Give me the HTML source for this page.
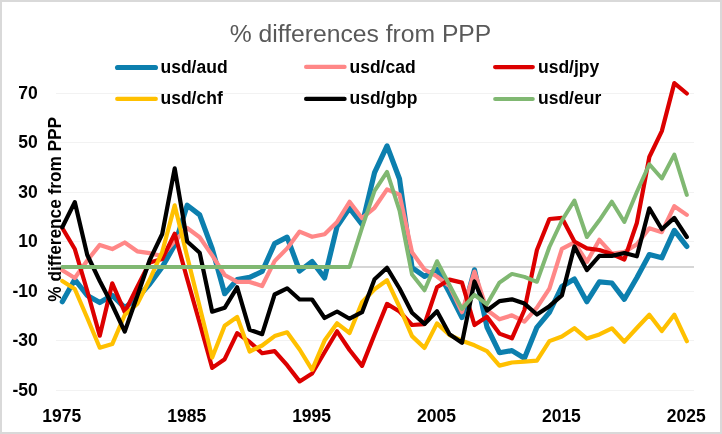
<!DOCTYPE html>
<html><head><meta charset="utf-8"><style>
html,body{margin:0;padding:0;background:#fff;}
body{width:722px;height:434px;overflow:hidden;}
svg{display:block;will-change:transform;}
text{font-family:"Liberation Sans",sans-serif;}
.lab{font-weight:bold;font-size:17.5px;fill:#000;}
.leg{font-weight:bold;font-size:17.5px;fill:#000;}
.title{font-size:24.7px;fill:#595959;}
.ytitle{font-weight:bold;font-size:18.2px;fill:#000;}
</style></head><body>
<svg width="722" height="434" viewBox="0 0 722 434">
<rect x="1" y="1" width="720" height="432" fill="#fff" stroke="#d9d9d9" stroke-width="2"/>
<rect x="56" y="93" width="638" height="1" fill="#f2f2f2"/>
<rect x="56" y="142" width="638" height="1" fill="#f2f2f2"/>
<rect x="56" y="192" width="638" height="1" fill="#f2f2f2"/>
<rect x="56" y="241" width="638" height="1" fill="#f2f2f2"/>
<rect x="56" y="291" width="638" height="1" fill="#f2f2f2"/>
<rect x="56" y="340" width="638" height="1" fill="#f2f2f2"/>
<rect x="56" y="390" width="638" height="1" fill="#f2f2f2"/>
<rect x="56" y="266" width="638" height="2" fill="#d6d6d6"/>
<text x="37.8" y="98.70" text-anchor="end" class="lab">70</text>
<text x="37.8" y="148.22" text-anchor="end" class="lab">50</text>
<text x="37.8" y="197.73" text-anchor="end" class="lab">30</text>
<text x="37.8" y="247.25" text-anchor="end" class="lab">10</text>
<text x="37.8" y="296.76" text-anchor="end" class="lab">-10</text>
<text x="37.8" y="346.28" text-anchor="end" class="lab">-30</text>
<text x="37.8" y="395.80" text-anchor="end" class="lab">-50</text>
<text x="61.80" y="421.5" text-anchor="middle" class="lab">1975</text>
<text x="186.70" y="421.5" text-anchor="middle" class="lab">1985</text>
<text x="311.60" y="421.5" text-anchor="middle" class="lab">1995</text>
<text x="436.50" y="421.5" text-anchor="middle" class="lab">2005</text>
<text x="561.40" y="421.5" text-anchor="middle" class="lab">2015</text>
<text x="686.30" y="421.5" text-anchor="middle" class="lab">2025</text>
<polyline points="62.30,301.70 74.79,279.50 87.28,295.50 99.77,302.60 112.26,295.30 124.75,307.70 137.24,298.00 149.73,284.00 162.22,267.00 174.71,245.00 187.20,205.20 199.69,214.90 212.18,248.60 224.67,293.70 237.16,279.60 249.65,277.30 262.14,271.50 274.63,243.60 287.12,237.10 299.61,271.00 312.10,261.50 324.59,277.90 337.08,226.50 349.57,208.10 362.06,224.50 374.55,172.60 387.04,145.90 399.53,179.00 412.02,267.70 424.51,276.40 437.00,269.50 449.49,292.80 461.98,317.50 474.47,269.80 486.96,327.00 499.45,352.70 511.94,350.60 524.43,358.20 536.92,327.30 549.41,312.30 561.90,286.40 574.39,279.00 586.88,301.70 599.37,281.80 611.86,283.00 624.35,299.30 636.84,277.80 649.33,254.60 661.82,257.80 674.31,230.40 686.80,246.40" fill="none" stroke="#0c7fae" stroke-width="5.2" stroke-linejoin="round" stroke-linecap="round"/>
<polyline points="62.30,270.30 74.79,278.00 87.28,260.50 99.77,244.90 112.26,249.10 124.75,242.50 137.24,251.30 149.73,253.20 162.22,256.10 174.71,241.00 187.20,228.00 199.69,237.20 212.18,255.40 224.67,275.00 237.16,281.90 249.65,281.90 262.14,286.00 274.63,261.10 287.12,248.40 299.61,231.60 312.10,236.80 324.59,234.20 337.08,221.90 349.57,201.80 362.06,218.20 374.55,207.80 387.04,189.40 399.53,194.80 412.02,252.30 424.51,269.50 437.00,276.50 449.49,286.10 461.98,312.20 474.47,271.60 486.96,310.00 499.45,319.30 511.94,315.30 524.43,321.70 536.92,307.60 549.41,288.60 561.90,248.80 574.39,242.30 586.88,261.90 599.37,239.80 611.86,253.70 624.35,252.00 636.84,244.40 649.33,228.30 661.82,232.20 674.31,206.20 686.80,214.90" fill="none" stroke="#ff8787" stroke-width="4.2" stroke-linejoin="round" stroke-linecap="round"/>
<polyline points="62.30,228.00 74.79,249.00 87.28,291.00 99.77,335.70 112.26,283.30 124.75,312.20 137.24,287.00 149.73,262.50 162.22,259.00 174.71,233.80 187.20,279.00 199.69,323.00 212.18,367.90 224.67,359.20 237.16,333.10 249.65,342.00 262.14,353.20 274.63,351.10 287.12,365.20 299.61,381.40 312.10,373.50 324.59,352.30 337.08,331.30 349.57,350.00 362.06,365.90 374.55,334.50 387.04,303.90 399.53,311.50 412.02,325.00 424.51,324.10 437.00,287.30 449.49,279.60 461.98,282.60 474.47,325.00 486.96,316.80 499.45,333.60 511.94,338.30 524.43,310.00 536.92,250.00 549.41,219.00 561.90,217.80 574.39,241.50 586.88,248.40 599.37,250.00 611.86,254.00 624.35,259.50 636.84,223.00 649.33,157.00 661.82,131.10 674.31,83.10 686.80,93.50" fill="none" stroke="#dc0000" stroke-width="4.2" stroke-linejoin="round" stroke-linecap="round"/>
<polyline points="62.30,281.00 74.79,289.00 87.28,318.00 99.77,347.70 112.26,344.10 124.75,315.00 137.24,304.00 149.73,279.50 162.22,252.00 174.71,205.40 187.20,256.60 199.69,306.70 212.18,357.60 224.67,325.70 237.16,317.00 249.65,351.50 262.14,345.50 274.63,336.10 287.12,332.30 299.61,349.50 312.10,369.80 324.59,340.60 337.08,323.30 349.57,333.00 362.06,302.30 374.55,289.20 387.04,280.30 399.53,307.00 412.02,336.10 424.51,347.90 437.00,323.40 449.49,335.00 461.98,340.70 474.47,345.30 486.96,351.10 499.45,365.60 511.94,362.50 524.43,361.60 536.92,360.70 549.41,341.10 561.90,336.50 574.39,328.20 586.88,338.60 599.37,334.40 611.86,328.30 624.35,341.70 636.84,328.00 649.33,314.70 661.82,331.00 674.31,314.70 686.80,341.20" fill="none" stroke="#ffc000" stroke-width="4.2" stroke-linejoin="round" stroke-linecap="round"/>
<polyline points="62.30,227.30 74.79,202.10 87.28,255.00 99.77,281.00 112.26,305.00 124.75,331.60 137.24,296.00 149.73,260.00 162.22,234.00 174.71,168.40 187.20,241.50 199.69,252.70 212.18,311.70 224.67,307.80 237.16,287.30 249.65,329.80 262.14,334.20 274.63,294.50 287.12,288.30 299.61,299.50 312.10,299.50 324.59,318.00 337.08,311.50 349.57,318.70 362.06,312.20 374.55,279.30 387.04,267.80 399.53,288.50 412.02,312.80 424.51,323.90 437.00,311.30 449.49,334.20 461.98,342.90 474.47,281.50 486.96,310.50 499.45,301.10 511.94,299.30 524.43,303.60 536.92,314.50 549.41,306.20 561.90,295.40 574.39,246.50 586.88,270.10 599.37,255.90 611.86,255.90 624.35,253.00 636.84,256.30 649.33,208.30 661.82,229.30 674.31,217.90 686.80,237.00" fill="none" stroke="#000000" stroke-width="4.2" stroke-linejoin="round" stroke-linecap="round"/>
<polyline points="62.30,266.90 74.79,266.90 87.28,266.90 99.77,266.90 112.26,266.90 124.75,266.90 137.24,266.90 149.73,266.90 162.22,266.90 174.71,266.90 187.20,266.90 199.69,266.90 212.18,266.90 224.67,266.90 237.16,266.90 249.65,266.90 262.14,266.90 274.63,266.90 287.12,266.90 299.61,266.90 312.10,266.90 324.59,266.90 337.08,266.90 349.57,266.90 362.06,227.70 374.55,190.80 387.04,171.80 399.53,210.70 412.02,274.60 424.51,290.30 437.00,261.20 449.49,285.00 461.98,308.90 474.47,294.80 486.96,304.30 499.45,282.60 511.94,273.90 524.43,276.90 536.92,281.80 549.41,247.00 561.90,220.50 574.39,200.50 586.88,237.00 599.37,220.30 611.86,201.70 624.35,222.00 636.84,192.00 649.33,164.30 661.82,178.50 674.31,154.60 686.80,194.90" fill="none" stroke="#80b872" stroke-width="4.0" stroke-linejoin="round" stroke-linecap="round"/>
<text x="360.5" y="42" text-anchor="middle" class="title">% differences from PPP</text>
<line x1="117.6" y1="67.5" x2="155.4" y2="67.5" stroke="#0c7fae" stroke-width="5.2" stroke-linecap="round"/>
<text x="160.5" y="73.0" class="leg">usd/aud</text>
<line x1="306.1" y1="66.9" x2="344.6" y2="66.9" stroke="#ff8787" stroke-width="4.2" stroke-linecap="round"/>
<text x="349.5" y="72.7" class="leg">usd/cad</text>
<line x1="495.1" y1="67.1" x2="532.8" y2="67.1" stroke="#dc0000" stroke-width="4.2" stroke-linecap="round"/>
<text x="538.0" y="72.7" class="leg">usd/jpy</text>
<line x1="117.2" y1="98.9" x2="155.8" y2="98.9" stroke="#ffc000" stroke-width="4.2" stroke-linecap="round"/>
<text x="160.5" y="104.3" class="leg">usd/chf</text>
<line x1="306.1" y1="98.9" x2="344.6" y2="98.9" stroke="#000000" stroke-width="4.2" stroke-linecap="round"/>
<text x="349.5" y="104.3" class="leg">usd/gbp</text>
<line x1="495.1" y1="98.9" x2="532.8" y2="98.9" stroke="#80b872" stroke-width="4.0" stroke-linecap="round"/>
<text x="538.0" y="104.3" class="leg">usd/eur</text>
<text transform="translate(61,209.3) rotate(-90)" text-anchor="middle" class="ytitle" textLength="184.8" lengthAdjust="spacingAndGlyphs">% difference from PPP</text>
</svg>
</body></html>
